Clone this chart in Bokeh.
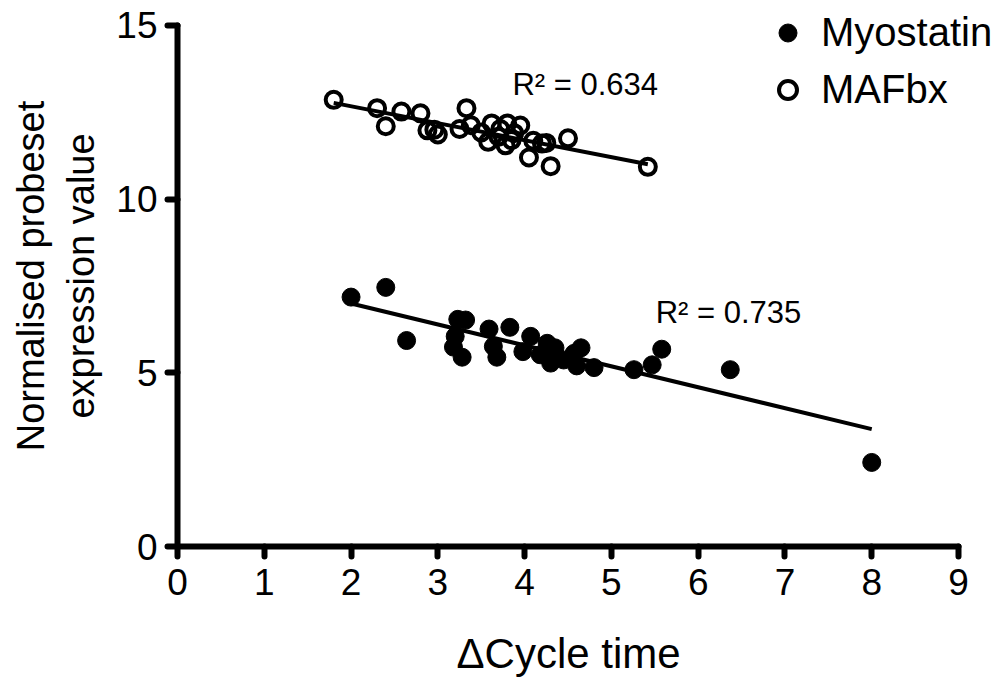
import numpy as np
from bokeh.plotting import figure
from bokeh.models import Range1d, FixedTicker, Legend, LegendItem, Label, Title
from bokeh.embed import file_html
from bokeh.resources import INLINE

# Myostatin (filled circles)
myo_x = [2.00, 2.40, 2.64, 3.23, 3.32, 3.20, 3.18, 3.28, 3.59, 3.83, 3.64, 3.68,
         4.07, 3.98, 4.26, 4.18, 4.35, 4.30, 4.45, 4.57, 4.65, 4.60, 4.80, 5.26,
         5.47, 5.58, 6.37, 8.00]
myo_y = [7.18, 7.46, 5.93, 6.54, 6.52, 6.05, 5.74, 5.45, 6.26, 6.31, 5.76, 5.45,
         6.05, 5.61, 5.85, 5.52, 5.72, 5.28, 5.37, 5.56, 5.72, 5.20, 5.15, 5.09,
         5.23, 5.68, 5.09, 2.42]

# MAFbx (open circles)
maf_x = [1.80, 2.30, 2.40, 2.58, 2.80, 2.88, 3.00, 2.96, 3.25, 3.33, 3.38, 3.50,
         3.58, 3.62, 3.70, 3.72, 3.78, 3.80, 3.88, 3.95, 3.85, 4.05, 4.10, 4.20,
         4.30, 4.25, 4.50, 5.42]
maf_y = [12.86, 12.62, 12.10, 12.52, 12.47, 11.98, 11.86, 12.00, 12.02, 12.62, 12.13, 11.92,
         11.65, 12.18, 11.80, 12.02, 11.55, 12.18, 11.90, 12.12, 11.70, 11.20, 11.68, 11.60,
         10.95, 11.62, 11.75, 10.93]

series_names = ["Myostatin", "MAFbx"]
r2_texts = ["R\u00b2 = 0.735", "R\u00b2 = 0.634"]
x_ticks = [0, 1, 2, 3, 4, 5, 6, 7, 8, 9]
y_ticks = [0, 5, 10, 15]
x_label = "\u0394Cycle time"
y_label = "Normalised probeset\nexpression value"

FONT = "Liberation Sans"

# the visible axes run 0-9 and 0-15 (axis bounds); the ranges leave room for the legend
p = figure(width=1000, height=678, output_backend="svg", toolbar_location=None,
           x_range=Range1d(0, 9.484), y_range=Range1d(0, 15.575),
           min_border_left=177, min_border_right=0, min_border_top=5, min_border_bottom=131)
p.outline_line_color = None
p.xgrid.visible = False
p.ygrid.visible = False

for ax in (p.xaxis[0], p.yaxis[0]):
    ax.axis_line_width = 6
    ax.axis_line_color = "black"
    ax.axis_line_cap = "round"
    ax.major_tick_line_width = 6
    ax.major_tick_line_color = "black"
    ax.major_tick_line_cap = "round"
    ax.major_tick_out = 10
    ax.major_tick_in = 0
    ax.minor_tick_line_color = None
    ax.major_label_text_font = FONT
    ax.major_label_text_font_size = "37px"
    ax.major_label_text_color = "black"
    ax.axis_label_text_font = FONT
    ax.axis_label_text_font_style = "normal"
    ax.axis_label_text_color = "black"

p.xaxis[0].bounds = (x_ticks[0], x_ticks[-1])
p.yaxis[0].bounds = (y_ticks[0], y_ticks[-1])
p.xaxis[0].ticker = FixedTicker(ticks=x_ticks)
p.yaxis[0].ticker = FixedTicker(ticks=y_ticks)
p.xaxis[0].major_label_standoff = 12
p.yaxis[0].major_label_standoff = 10
p.yaxis[0].axis_label = y_label
p.yaxis[0].axis_label_text_font_size = "38px"
p.yaxis[0].axis_label_standoff = 11

# blank x axis label used only as vertical spacing; the visible x title is placed below it
p.xaxis[0].axis_label = " "
p.xaxis[0].axis_label_text_font_size = "10px"
p.xaxis[0].axis_label_standoff = 14

p.add_layout(Title(text=x_label, align="left", offset=279, standoff=4,
                   text_font=FONT, text_font_size="42px", text_font_style="normal",
                   text_color="black"), "below")

# regression lines computed from the data
def fit_line(xs, ys):
    xs = np.asarray(xs); ys = np.asarray(ys)
    m, b = np.polyfit(xs, ys, 1)
    lx = np.array([xs.min(), xs.max()])
    return lx, m * lx + b

lx, ly = fit_line(myo_x, myo_y)
p.line(lx, ly, line_color="black", line_width=4)
lx2, ly2 = fit_line(maf_x, maf_y)
p.line(lx2, ly2, line_color="black", line_width=4)

r_myo = p.scatter(myo_x, myo_y, marker="circle", size=18, fill_color="black", line_color="black", line_width=1)
r_maf = p.scatter(maf_x, maf_y, marker="circle", size=16, fill_color="white", fill_alpha=0.0,
                  line_color="black", line_width=4)

p.add_layout(Label(x=5.51, y=6.24, text=r2_texts[0], text_font=FONT, text_font_size="31px",
                   text_color="black"))
p.add_layout(Label(x=3.86, y=12.8, text=r2_texts[1], text_font=FONT, text_font_size="31px",
                   text_color="black"))

legend = Legend(items=[LegendItem(label=series_names[0], renderers=[r_myo]),
                       LegendItem(label=series_names[1], renderers=[r_maf])],
                location=(588, 434), orientation="vertical",
                label_text_font=FONT, label_text_font_size="40px", label_text_color="black",
                glyph_width=45, glyph_height=45, label_height=45, spacing=12,
                label_standoff=11, padding=0, margin=0,
                border_line_alpha=0, background_fill_alpha=0)
p.add_layout(legend)

open("out.html", "w").write(file_html(p, INLINE))
